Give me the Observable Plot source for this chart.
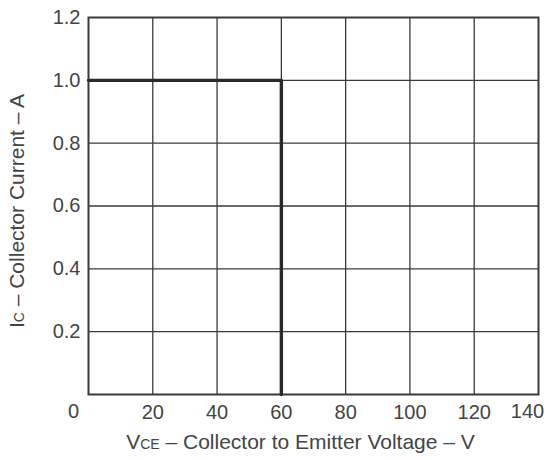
<!DOCTYPE html>
<html>
<head>
<meta charset="utf-8">
<script src="https://cdn.jsdelivr.net/npm/d3@7"></script>
<script src="https://cdn.jsdelivr.net/npm/@observablehq/plot@0.6"></script>
<style>
  html, body { margin: 0; padding: 0; background: #fff; }
  svg { display: block; }
</style>
</head>
<body>
<div id="chart"></div>
<script>
// Safe operating area boundary: VCE (V) vs IC (A)
const vce = [0, 60, 60];
const ic = [1.0, 1.0, 0];

const xTicks = [0, 20, 40, 60, 80, 100, 120, 140];
const yTicks = [0.2, 0.4, 0.6, 0.8, 1.0, 1.2];
const yTickLabels = ["0.2", "0.4", "0.6", "0.8", "1.0", "1.2"];
const xTickLabels = ["0", "20", "40", "60", "80", "100", "120", "140"];

const xTitle = "VCE – Collector to Emitter Voltage – V";
const yTitle = "IC – Collector Current – A";

const boundary = vce.map((v, i) => ({ vce: v, ic: ic[i] }));
const xLab = xTicks.map((t, i) => ({ t, label: xTickLabels[i] }));
const yLab = yTicks.map((t, i) => ({ t, label: yTickLabels[i] }));

const ink = "#3a3a3a";
const txt = "#444";
const font = "'Liberation Sans', Arial, sans-serif";
const fs = 20;
const fsTitle = 21;

const chart = Plot.plot({
  width: 548,
  height: 460,
  marginLeft: 88,
  marginRight: 10,
  marginTop: 17,
  marginBottom: 66,
  style: { fontFamily: font, fontSize: fs + "px", color: ink, background: "#fff" },
  x: { domain: [0, 140], axis: null },
  y: { domain: [0, 1.2], axis: null },
  marks: [
    Plot.ruleX(xTicks.slice(1, -1), { stroke: ink, strokeWidth: 1.3 }),
    Plot.ruleY(yTicks.slice(0, -1), { stroke: ink, strokeWidth: 1.3 }),
    Plot.frame({ stroke: ink, strokeWidth: 2 }),
    Plot.line(boundary, { x: "vce", y: "ic", stroke: "#2a2a2a", strokeWidth: 3.4, curve: "linear" }),
    // y tick labels
    Plot.text(yLab, { x: 0, y: "t", text: "label", textAnchor: "end", dx: -8, fill: txt, fontSize: fs }),
    // x tick labels
    Plot.text(xLab.filter(d => d.t === 0), { x: "t", y: 0, text: "label", dx: -15, dy: 17, fill: txt, fontSize: fs }),
    Plot.text(xLab.filter(d => d.t > 0 && d.t < 140), { x: "t", y: 0, text: "label", dy: 18, fill: txt, fontSize: fs }),
    Plot.text(xLab.filter(d => d.t === 140), { x: "t", y: 0, text: "label", dx: -11, dy: 17, fill: txt, fontSize: fs }),
    // axis titles
    Plot.text([xTitle], { frameAnchor: "bottom", textAnchor: "middle", dy: 54, dx: -13, text: d => d, fill: txt, fontSize: fsTitle, className: "xtitle" }),
    Plot.text([yTitle], { frameAnchor: "left", textAnchor: "middle", dx: -71, dy: 5, rotate: -90, text: d => d, fill: txt, fontSize: fsTitle, className: "ytitle" })
  ]
});

// Render subscripts (CE, C) as smaller caps spans
function subscript(cls, main, sub, rest) {
  d3.select(chart).selectAll(`.${cls} text`).each(function () {
    const t = d3.select(this);
    t.text(null);
    t.append("tspan").text(main);
    t.append("tspan").attr("font-size", "14px").text(sub);
    t.append("tspan").text(rest);
  });
}
subscript("xtitle", "V", "CE", " – Collector to Emitter Voltage – V");
subscript("ytitle", "I", "C", " – Collector Current – A");

document.getElementById("chart").appendChild(chart);
</script>
</body>
</html>
